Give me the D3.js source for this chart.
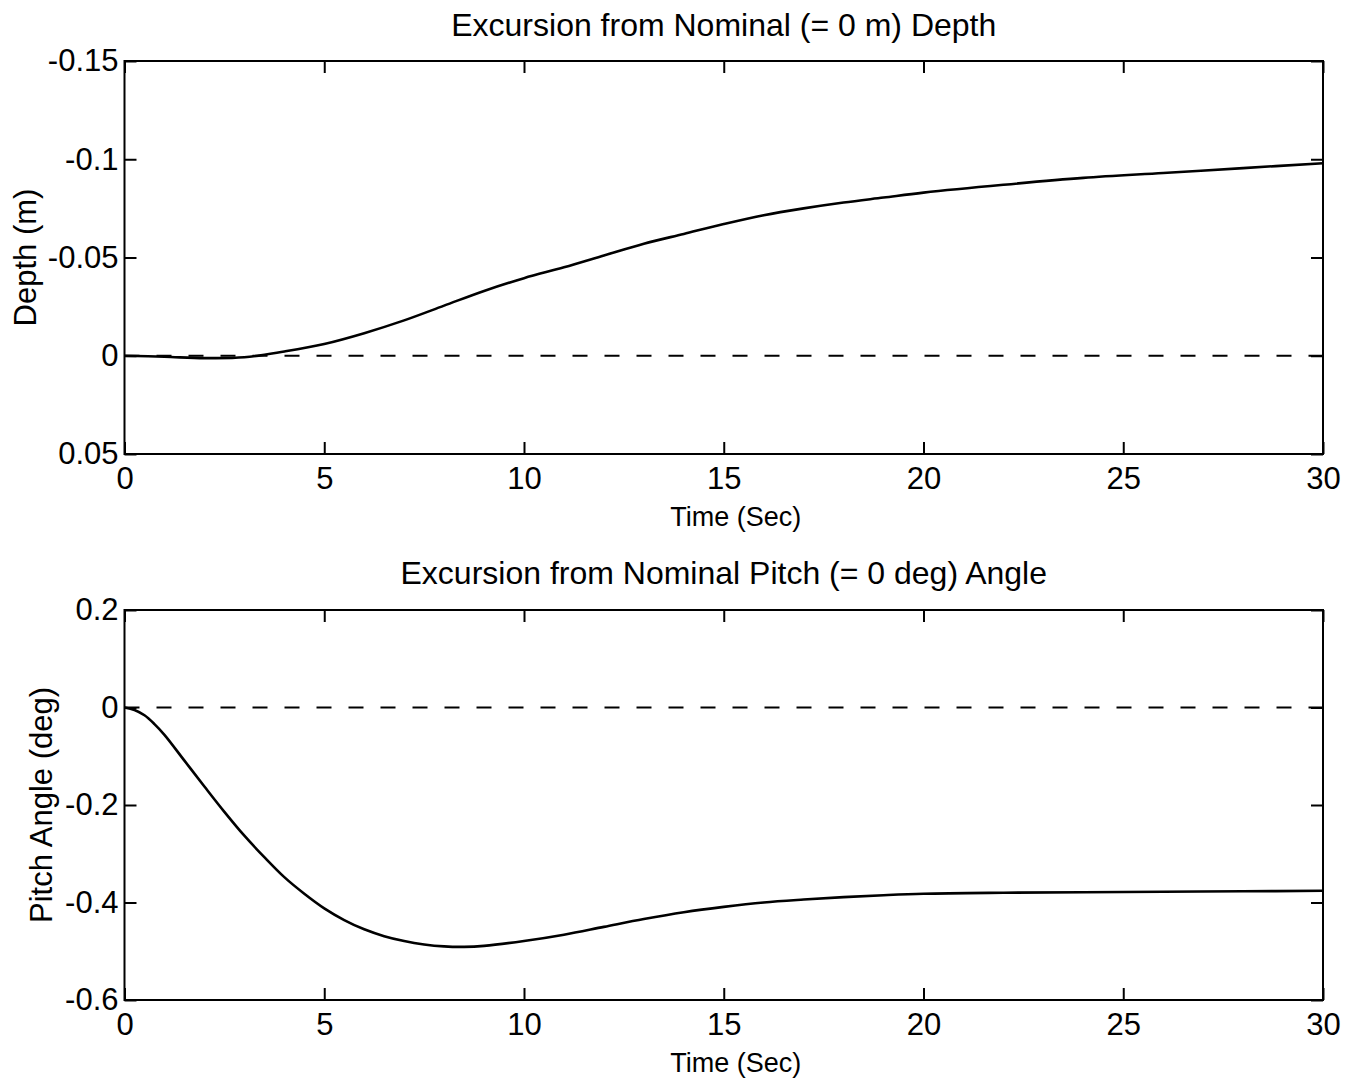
<!DOCTYPE html>
<html>
<head>
<meta charset="utf-8">
<script src="https://cdn.jsdelivr.net/npm/d3@7"></script>
<style>
  html, body { margin: 0; padding: 0; background: #fff; }
  svg { display: block; }
  text { font-family: "Liberation Sans", Arial, Helvetica, sans-serif; fill: #000; }
</style>
</head>
<body>
<svg id="chart" width="1352" height="1085"></svg>
<script>
// Simulation time base (s) and vehicle responses
const depthTime = [0, 1, 2, 3, 4, 5, 6, 7, 8, 9, 10, 11, 12, 13, 14, 15, 16, 17, 18, 19, 20, 22, 24, 26, 28, 30];
const depthExcursion = [0, 0.0005, 0.0012, 0.0008, -0.0022, -0.006, -0.0115, -0.018, -0.0255, -0.033,
  -0.0395, -0.045, -0.051, -0.057, -0.062, -0.067, -0.0715, -0.075, -0.078, -0.0805,
  -0.083, -0.087, -0.0905, -0.093, -0.0955, -0.098];

const pitchTime = [0, 0.25, 0.5, 0.75, 1, 1.5, 2, 2.5, 3, 3.5, 4, 4.5, 5, 5.5, 6, 6.5, 7, 7.5, 8, 8.5, 9,
  10, 11, 12, 13, 14, 15, 16, 17, 18, 19, 20, 22, 24, 26, 28, 30];
const pitchExcursion = [0, -0.005, -0.016, -0.034, -0.056, -0.109, -0.162, -0.214, -0.263, -0.307, -0.348, -0.382,
  -0.412, -0.436, -0.455, -0.469, -0.479, -0.486, -0.490, -0.491, -0.489,
  -0.479, -0.466, -0.450, -0.434, -0.420, -0.409, -0.400, -0.394, -0.389, -0.385, -0.382,
  -0.380, -0.379, -0.378, -0.377, -0.376];

// Nominal (commanded) references
const nominalTime = [0, 30];
const nominalDepth = [0, 0];
const nominalPitch = [0, 0];

// Axis ticks and labels
const timeTicks = [0, 5, 10, 15, 20, 25, 30];
const timeTickLabels = ["0", "5", "10", "15", "20", "25", "30"];
const depthTicks = [-0.15, -0.1, -0.05, 0, 0.05];
const depthTickLabels = ["-0.15", "-0.1", "-0.05", "0", "0.05"];
const pitchTicks = [0.2, 0, -0.2, -0.4, -0.6];
const pitchTickLabels = ["0.2", "0", "-0.2", "-0.4", "-0.6"];

const titles = ["Excursion from Nominal (= 0 m) Depth", "Excursion from Nominal Pitch (= 0 deg) Angle"];
const xLabel = "Time (Sec)";
const yLabels = ["Depth (m)", "Pitch Angle (deg)"];

const svg = d3.select("#chart");

const panels = [
  {
    top: 61, bottom: 454,
    yDomain: [-0.15, 0.05], yTicks: depthTicks, yTickLabels: depthTickLabels,
    t: depthTime, v: depthExcursion, nom: nominalDepth,
    title: titles[0], titleY: 36, yLabel: yLabels[0], yLabelX: 36
  },
  {
    top: 610, bottom: 1000,
    yDomain: [0.2, -0.6], yTicks: pitchTicks, yTickLabels: pitchTickLabels,
    t: pitchTime, v: pitchExcursion, nom: nominalPitch,
    title: titles[1], titleY: 584, yLabel: yLabels[1], yLabelX: 52
  }
];

const left = 124.5, right = 1323;
const x = d3.scaleLinear().domain([0, 30]).range([left, right]);
const tickLen = 12;
const fontStack = '"Liberation Sans", Arial, Helvetica, sans-serif';

panels.forEach(p => {
  const y = d3.scaleLinear().domain(p.yDomain).range([p.top, p.bottom]);
  const g = svg.append("g");

  const fmtX = (d) => timeTickLabels[timeTicks.indexOf(d)];
  const fmtY = (d) => p.yTickLabels[p.yTicks.indexOf(d)];

  // bottom axis with labels
  const gb = g.append("g").attr("transform", `translate(0,${p.bottom})`)
    .call(d3.axisBottom(x).tickValues(timeTicks).tickFormat(fmtX)
      .tickSize(-tickLen).tickPadding(13));
  // top axis (ticks only)
  const gt = g.append("g").attr("transform", `translate(0,${p.top})`)
    .call(d3.axisTop(x).tickValues(timeTicks).tickFormat("").tickSize(-tickLen));
  // left axis with labels
  const gl = g.append("g").attr("transform", `translate(${left},0)`)
    .call(d3.axisLeft(y).tickValues(p.yTicks).tickFormat(fmtY)
      .tickSize(-tickLen).tickPadding(6));
  // right axis (ticks only)
  const gr = g.append("g").attr("transform", `translate(${right},0)`)
    .call(d3.axisRight(y).tickValues(p.yTicks).tickFormat("").tickSize(-tickLen));

  [gb, gt, gl, gr].forEach(a => {
    a.select(".domain").remove();
    a.selectAll(".tick line").attr("stroke", "#000").attr("stroke-width", 2);
    a.selectAll(".tick text").attr("font-size", 31).attr("fill", "#000")
      .style("font-family", fontStack);
  });

  // frame
  g.append("rect")
    .attr("x", left).attr("y", p.top)
    .attr("width", right - left).attr("height", p.bottom - p.top)
    .attr("fill", "none").attr("stroke", "#000").attr("stroke-width", 2);

  // nominal reference (dashed)
  const nomLine = d3.line().x((d, i) => x(nominalTime[i])).y(d => y(d));
  g.append("path").datum(p.nom)
    .attr("d", nomLine)
    .attr("fill", "none").attr("stroke", "#000")
    .attr("stroke-width", 2.2).attr("stroke-dasharray", "15,17");

  // response curve
  const line = d3.line().x((d, i) => x(p.t[i])).y(d => y(d)).curve(d3.curveCatmullRom.alpha(0.5));
  g.append("path").datum(p.v)
    .attr("d", line)
    .attr("fill", "none").attr("stroke", "#000")
    .attr("stroke-width", 2.6).attr("stroke-linejoin", "round");

  // title
  g.append("text")
    .attr("x", (left + right) / 2).attr("y", p.titleY)
    .attr("text-anchor", "middle").attr("font-size", 32)
    .text(p.title);

  // x label
  g.append("text")
    .attr("x", (left + right) / 2 + 12).attr("y", p.bottom + 72)
    .attr("text-anchor", "middle").attr("font-size", 27)
    .text(xLabel);

  // y label
  g.append("text")
    .attr("transform", `translate(${p.yLabelX},${(p.top + p.bottom) / 2}) rotate(-90)`)
    .attr("text-anchor", "middle").attr("font-size", 31)
    .text(p.yLabel);
});
</script>
</body>
</html>
